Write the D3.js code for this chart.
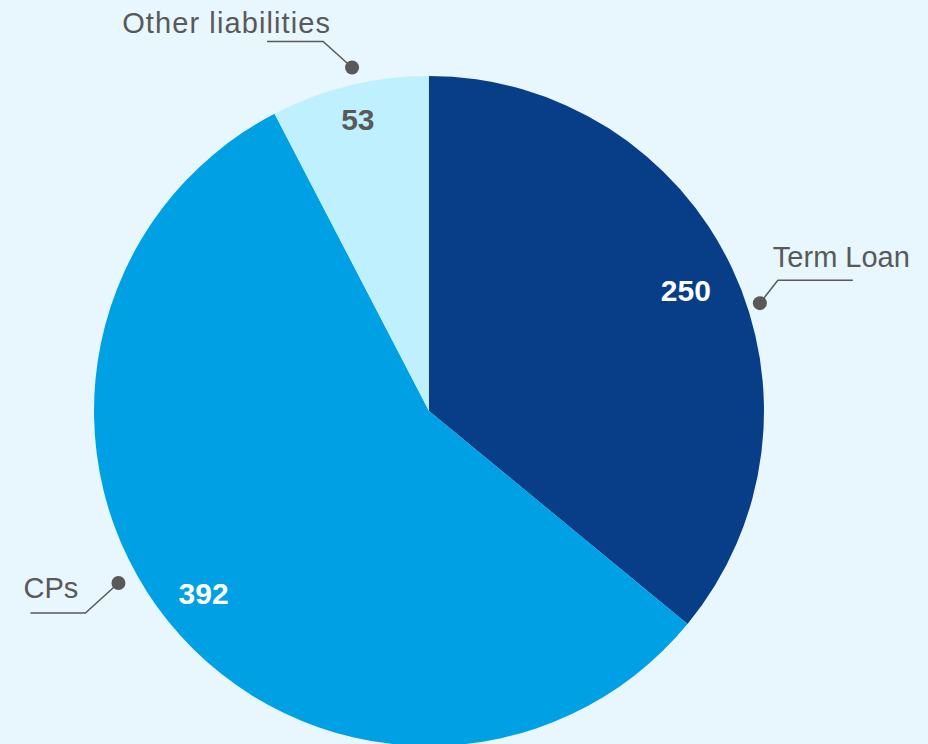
<!DOCTYPE html>
<html>
<head>
<meta charset="utf-8">
<script src="https://cdn.jsdelivr.net/npm/d3@7"></script>
<style>
  html, body { margin: 0; padding: 0; background: #e8f6fd; }
  svg { display: block; font-family: "Liberation Sans", Arial, sans-serif; }
</style>
</head>
<body>
<svg width="928" height="744"></svg>
<script>
//  Chart data
const categories = ['Term Loan', 'CPs', 'Other liabilities'];
const values = [250, 392, 53];
const colors = ['#083d87', '#00a0e4', '#bff0fe'];
const valueColors = ['#ffffff', '#ffffff', '#595959'];

const svg = d3.select('svg');
const center = { x: 429, y: 411 };
const radius = 335;

const g = svg.append('g')
    .attr('transform', `translate(${center.x},${center.y})`);

const pie = d3.pie().sort(null).value(d => d);
const arcs = pie(values);

const arc = d3.arc().innerRadius(0).outerRadius(radius);

//======================================
//  Slices
//======================================
g.selectAll('path.slice')
    .data(arcs)
    .enter()
    .append('path')
    .attr('class', 'slice')
    .attr('d', arc)
    .attr('fill', (d, i) => colors[i]);

//======================================
//  Value labels
//======================================
const labelRadius = [284, 290, 300];
g.selectAll('text.value')
    .data(arcs)
    .enter()
    .append('text')
    .attr('class', 'value')
    .attr('x', (d, i) => labelRadius[i] * Math.sin((d.startAngle + d.endAngle) / 2))
    .attr('y', (d, i) => -labelRadius[i] * Math.cos((d.startAngle + d.endAngle) / 2))
    .attr('dy', '0.36em')
    .attr('text-anchor', 'middle')
    .attr('fill', (d, i) => valueColors[i])
    .style('font-size', '30px')
    .style('font-weight', 'bold')
    .text(d => d.data);

//======================================
//  Category labels with leader lines
//======================================
//  dot angle offset (deg) from slice middle, elbow offset, horizontal length, side
const leaders = [
    { off: 7.2, dist: 348, ex: 18, ey: -23, len: 75, dir: 1 },
    { off: 10, dist: 355, ex: -33, ey: 30, len: 55, dir: -1 },
    { off: 1.1, dist: 352, ex: -29, ey: -26, len: 56, dir: -1 }
];

const leaderG = g.append('g').attr('class', 'leaders');

arcs.forEach((d, i) => {
    const L = leaders[i];
    const a = (d.startAngle + d.endAngle) / 2 + L.off * Math.PI / 180;
    const dx = L.dist * Math.sin(a);
    const dy = -L.dist * Math.cos(a);
    const ex = dx + L.ex, ey = dy + L.ey;
    const hx = ex + L.dir * L.len;

    leaderG.append('polyline')
        .attr('points', `${dx},${dy} ${ex},${ey} ${hx},${ey}`)
        .attr('fill', 'none')
        .attr('stroke', '#595959')
        .attr('stroke-width', 1.5);

    leaderG.append('circle')
        .attr('cx', dx)
        .attr('cy', dy)
        .attr('r', 7)
        .attr('fill', '#595959');

    const label = leaderG.append('text')
        .attr('fill', '#595959')
        .style('font-size', '29px')
        .text(categories[i]);

    if (i === 0) {
        label.attr('x', ex - 5).attr('y', ey - 13).attr('text-anchor', 'start');
    } else if (i === 1) {
        label.attr('x', hx - 7).attr('y', ey - 15).attr('text-anchor', 'start');
    } else {
        label.attr('x', ex + 8).attr('y', ey - 9).attr('text-anchor', 'end')
            .style('letter-spacing', '1.1px');
    }
});
</script>
</body>
</html>
